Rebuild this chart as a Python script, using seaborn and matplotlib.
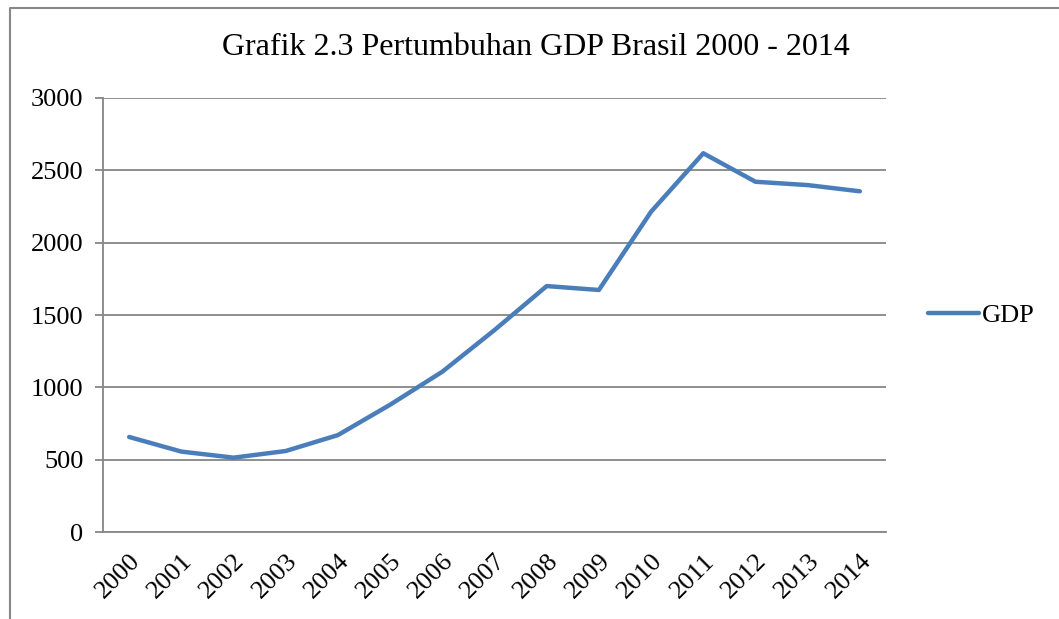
import matplotlib
matplotlib.use("Agg")
import matplotlib.pyplot as plt
import seaborn as sns
import numpy as np
import pandas as pd
from matplotlib.lines import Line2D

years = ['2000', '2001', '2002', '2003', '2004', '2005', '2006', '2007',
         '2008', '2009', '2010', '2011', '2012', '2013', '2014']
gdp = [657, 556, 514, 560, 670, 880, 1108, 1396,
       1700, 1673, 2214, 2618, 2421, 2398, 2355]
y_ticks = [0, 500, 1000, 1500, 2000, 2500, 3000]

df = pd.DataFrame({'pos': np.arange(len(years)), 'GDP': gdp})

sns.set_style('white')
plt.rcParams['font.family'] = ['Liberation Serif', 'DejaVu Serif']
plt.rcParams['text.color'] = 'black'
plt.rcParams['xtick.labelcolor'] = 'black'
plt.rcParams['ytick.labelcolor'] = 'black'

fig = plt.figure(figsize=(10.59, 6.19), dpi=100)
ax = fig.add_axes([0.0973, 0.1405, 0.7393, 0.7012])

# frame around the chart area (left and top edges are visible)
fx, fy = 10 / 1059, 1 - 8 / 619
fig.add_artist(Line2D([fx, fx, 1.0], [0.0, fy, fy], transform=fig.transFigure,
                      color='#888888', linewidth=1.5))

sns.lineplot(data=df, x='pos', y='GDP', ax=ax, color='#4A7EBB',
             linewidth=3.2, solid_capstyle='round', label='GDP')

ax.set_xlim(-0.5, len(years) - 0.5)
ax.set_ylim(0, 3000)
ax.set_yticks(y_ticks)
ax.set_yticklabels([str(v) for v in y_ticks], fontsize=19)
ax.yaxis.grid(True, color='#868686', linewidth=1.3)
ax.set_axisbelow(True)

# major ticks at the category boundaries, labels at the centres
ax.set_xticks(np.arange(len(years) + 1) - 0.5)
ax.set_xticklabels([])
ax.set_xticks(np.arange(len(years)), minor=True)
ax.set_xticklabels(years, minor=True, fontsize=19, rotation=45,
                   ha='right', va='top', rotation_mode='anchor')
ax.tick_params(axis='x', which='minor', length=0, pad=13)
ax.tick_params(axis='x', which='major', length=6, width=1.3, color='#868686')
ax.tick_params(axis='y', length=6, width=1.3, color='#868686', pad=8, left=True)
for lbl in ax.get_xticklabels(minor=True):
    lbl.set_x(lbl.get_position()[0] + 0.05)

for side in ['top', 'right']:
    ax.spines[side].set_visible(False)
for side in ['left', 'bottom']:
    ax.spines[side].set_color('#868686')
    ax.spines[side].set_linewidth(1.3)

ax.set_xlabel('')
ax.set_ylabel('')
fig.text(0.506, 0.923, 'Grafik 2.3 Pertumbuhan GDP Brasil 2000 - 2014',
         ha='center', va='center', fontsize=23)

leg = ax.legend(loc='center left', bbox_to_anchor=(1.04, 0.5), frameon=False,
                fontsize=19, handlelength=1.95, handletextpad=0.1,
                borderaxespad=0)

fig.savefig('out.png', dpi=100)
